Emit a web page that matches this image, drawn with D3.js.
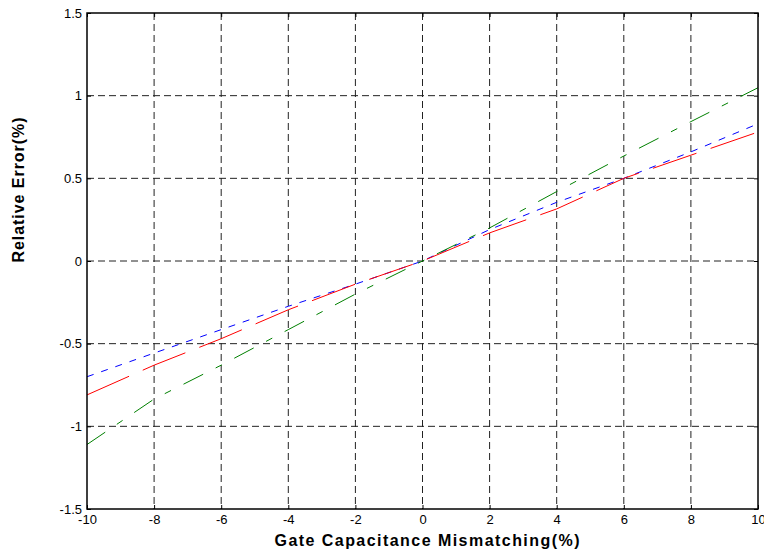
<!DOCTYPE html>
<html lang="en">
<head>
    <meta charset="UTF-8">
    <title>Relative Error vs Gate Capacitance Mismatching</title>
    <script src="https://d3js.org/d3.v7.min.js"></script>
    <style>
        body {margin: 0; background: white}
        text {font-family: 'Liberation Sans', Arial, sans-serif}
        .tick text {font-size: 13px; fill: black}
        .grid line {stroke: #222; stroke-width: 1; stroke-dasharray: 7 4}
        .title {font-size: 16px; font-weight: bold}
    </style>
</head>
<body>
<script>
    const width  = 764;
    const height = 554;
    const margin = {top: 13, right: 6, bottom: 45, left: 87};

    // mismatch (%) and relative error (%) for the three curves
    const mismatch  = [-10, -8, -6, -4, -2, 0, 2, 4, 6, 8, 10];
    const blueErr   = [-0.70, -0.557, -0.415, -0.274, -0.14, 0, 0.19, 0.355, 0.50, 0.66, 0.83];
    const redErr    = [-0.81, -0.63, -0.47, -0.295, -0.14, 0, 0.17, 0.315, 0.50, 0.64, 0.78];
    const greenErr  = [-1.11, -0.835, -0.63, -0.415, -0.20, 0, 0.20, 0.42, 0.635, 0.843, 1.048];

    const xTicks = d3.range(-10, 11, 2);
    const yTicks = [-1.5, -1, -0.5, 0, 0.5, 1, 1.5];

    const series = [
        {values: blueErr,  color: "#0000ff", dash: "7 8"},
        {values: redErr,   color: "#ff0000", dash: "46 15"},
        {values: greenErr, color: "#008000", dash: "22 14 7 14"}
    ];

    const x = d3.scaleLinear().domain([-10, 10])
            .range([margin.left, width - margin.right]);
    const y = d3.scaleLinear().domain([-1.5, 1.5])
            .range([height - margin.bottom, margin.top]);

    const svg = d3.select("body").append("svg")
            .attr("width", width).attr("height", height);

    // grid (dashed, skip the borders)
    const grid = svg.append("g").attr("class", "grid");
    grid.selectAll("line.v").data(xTicks.slice(1, -1)).join("line")
            .attr("x1", x).attr("x2", x)
            .attr("y1", y(1.5)).attr("y2", y(-1.5));
    grid.selectAll("line.h").data(yTicks.slice(1, -1)).join("line")
            .attr("x1", x(-10)).attr("x2", x(10))
            .attr("y1", y).attr("y2", y);

    // curves
    const line = d3.line()
            .x((d, i) => x(mismatch[i]))
            .y(d => y(d));

    svg.selectAll("path.curve").data(series).join("path")
            .attr("class", "curve")
            .attr("d", d => line(d.values))
            .attr("fill", "none")
            .attr("stroke", d => d.color)
            .attr("stroke-width", 1)
            .attr("stroke-dasharray", d => d.dash);

    // axes: ticks point inward, mirrored on top/right
    const fmt = d => String(d);   // plain hyphen minus like the original
    const styleAxis = g => {
        g.select(".domain").remove();
        g.selectAll(".tick line").attr("stroke", "black");
    };
    svg.append("g")
            .attr("transform", `translate(0,${y(-1.5)})`)
            .call(d3.axisBottom(x).tickValues(xTicks).tickFormat(fmt)
                .tickSizeInner(-4).tickSizeOuter(0).tickPadding(6))
            .call(styleAxis);
    svg.append("g")
            .attr("transform", `translate(0,${y(1.5)})`)
            .call(d3.axisTop(x).tickValues(xTicks).tickFormat("")
                .tickSizeInner(-4).tickSizeOuter(0))
            .call(styleAxis);
    svg.append("g")
            .attr("transform", `translate(${x(-10)},0)`)
            .call(d3.axisLeft(y).tickValues(yTicks).tickFormat(fmt)
                .tickSizeInner(-4).tickSizeOuter(0).tickPadding(5))
            .call(styleAxis);
    svg.append("g")
            .attr("transform", `translate(${x(10)},0)`)
            .call(d3.axisRight(y).tickValues(yTicks).tickFormat("")
                .tickSizeInner(-4).tickSizeOuter(0))
            .call(styleAxis);
    svg.selectAll(".tick text").attr("font-family", null).attr("font-size", null);

    // frame
    svg.append("rect")
            .attr("x", x(-10)).attr("y", y(1.5))
            .attr("width", x(10) - x(-10)).attr("height", y(-1.5) - y(1.5))
            .attr("fill", "none").attr("stroke", "black").attr("stroke-width", 1.5);

    // titles
    svg.append("text").attr("class", "title")
            .attr("x", 427).attr("y", 546)
            .attr("text-anchor", "middle")
            .attr("textLength", 305).attr("lengthAdjust", "spacing")
            .text("Gate Capacitance Mismatching(%)");
    svg.append("text").attr("class", "title")
            .attr("transform", `translate(24,190) rotate(-90)`)
            .attr("text-anchor", "middle")
            .attr("textLength", 145).attr("lengthAdjust", "spacing")
            .text("Relative Error(%)");
</script>
</body>
</html>
